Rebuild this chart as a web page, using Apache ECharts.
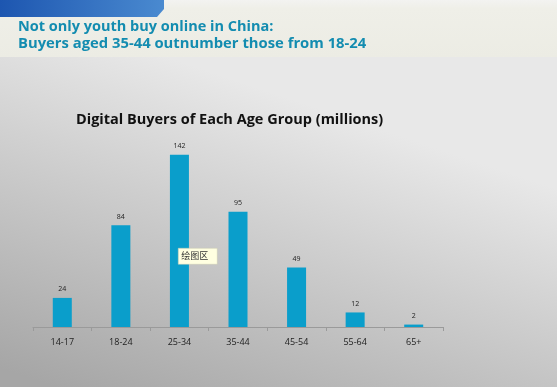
<!DOCTYPE html>
<html><head><meta charset="utf-8">
<script src="https://cdn.jsdelivr.net/npm/echarts@6/dist/echarts.min.js"></script>
<style>html,body{margin:0;padding:0;}#c{width:557px;height:387px;}</style>
</head><body><div id="c"></div>
<script>
var categories = ['14-17','18-24','25-34','35-44','45-54','55-64','65+'];
var buyers = [24, 84, 142, 95, 49, 12, 2];
var headline = ['Not only youth buy online in China:', 'Buyers aged 35-44 outnumber those from 18-24'];
var chartTitle = 'Digital Buyers of Each Age Group (millions)';

var chart = echarts.init(document.getElementById('c'), null, {renderer:'canvas'});
chart.setOption({
  animation:false,
  backgroundColor:'#ffffff',
  graphic:[
    {type:'rect', z:-10, shape:{x:0,y:57,width:557,height:330},
      style:{fill:new echarts.graphic.LinearGradient(0.3,0,0.1,1,[{offset:0,color:'#e8e8e8'},{offset:1,color:'#a6a6a6'}])}},
    {type:'rect', z:-10, shape:{x:0,y:0,width:557,height:57},
      style:{fill:new echarts.graphic.LinearGradient(0,0,0,1,[{offset:0,color:'#f3f3f1'},{offset:0.15,color:'#efefe8'},{offset:1,color:'#ecece4'}])}},
    {type:'polygon', z:-9, shape:{points:[[0,0],[164,0],[164,9],[157,17],[0,17]]},
      style:{fill:new echarts.graphic.LinearGradient(0,0,1,0,[{offset:0,color:'#1d56b0'},{offset:1,color:'#4a8ad0'}])}},
    {type:'text', left:18, top:19, style:{text:headline[0], font:'bold 14.5px "Open Sans", sans-serif', fill:'#138cb0'}},
    {type:'text', left:18, top:36, style:{text:headline[1], font:'bold 14.8px "Open Sans", sans-serif', fill:'#138cb0'}},
    {type:'group', left:178, top:248, z:100, children:[
      {type:'rect', z:100, shape:{x:0,y:0,width:39,height:16}, style:{fill:'#ffffe1', stroke:'#c8c8b0', lineWidth:0.5}},
      {type:'text', z:101, x:3, y:3, style:{text:'绘图区', font:'9px "Noto Sans CJK SC", sans-serif', fill:'#333'}}
    ]}
  ],
  title:{text:chartTitle, left:71, top:107,
    textStyle:{fontFamily:'"Open Sans", sans-serif', fontWeight:'bold', fontSize:14.5, color:'#111'}},
  grid:{left:33, right:114, top:133, bottom:60, containLabel:false},
  xAxis:{type:'category', data:categories,
    axisLine:{lineStyle:{color:'#9a9a9a', width:1}},
    axisTick:{show:true, length:4, lineStyle:{color:'#9a9a9a'}},
    axisLabel:{color:'#222', fontSize:9, margin:11, fontFamily:'"Open Sans", sans-serif'}},
  yAxis:{type:'value', min:0, max:160, show:false, splitLine:{show:false}},
  series:[{type:'bar', data:buyers, barWidth:19,
    itemStyle:{color:'#0a9ecb'},
    label:{show:true, position:'top', color:'#222', fontSize:7, distance:5, fontFamily:'"Open Sans", sans-serif'}}]
});
</script></body></html>
